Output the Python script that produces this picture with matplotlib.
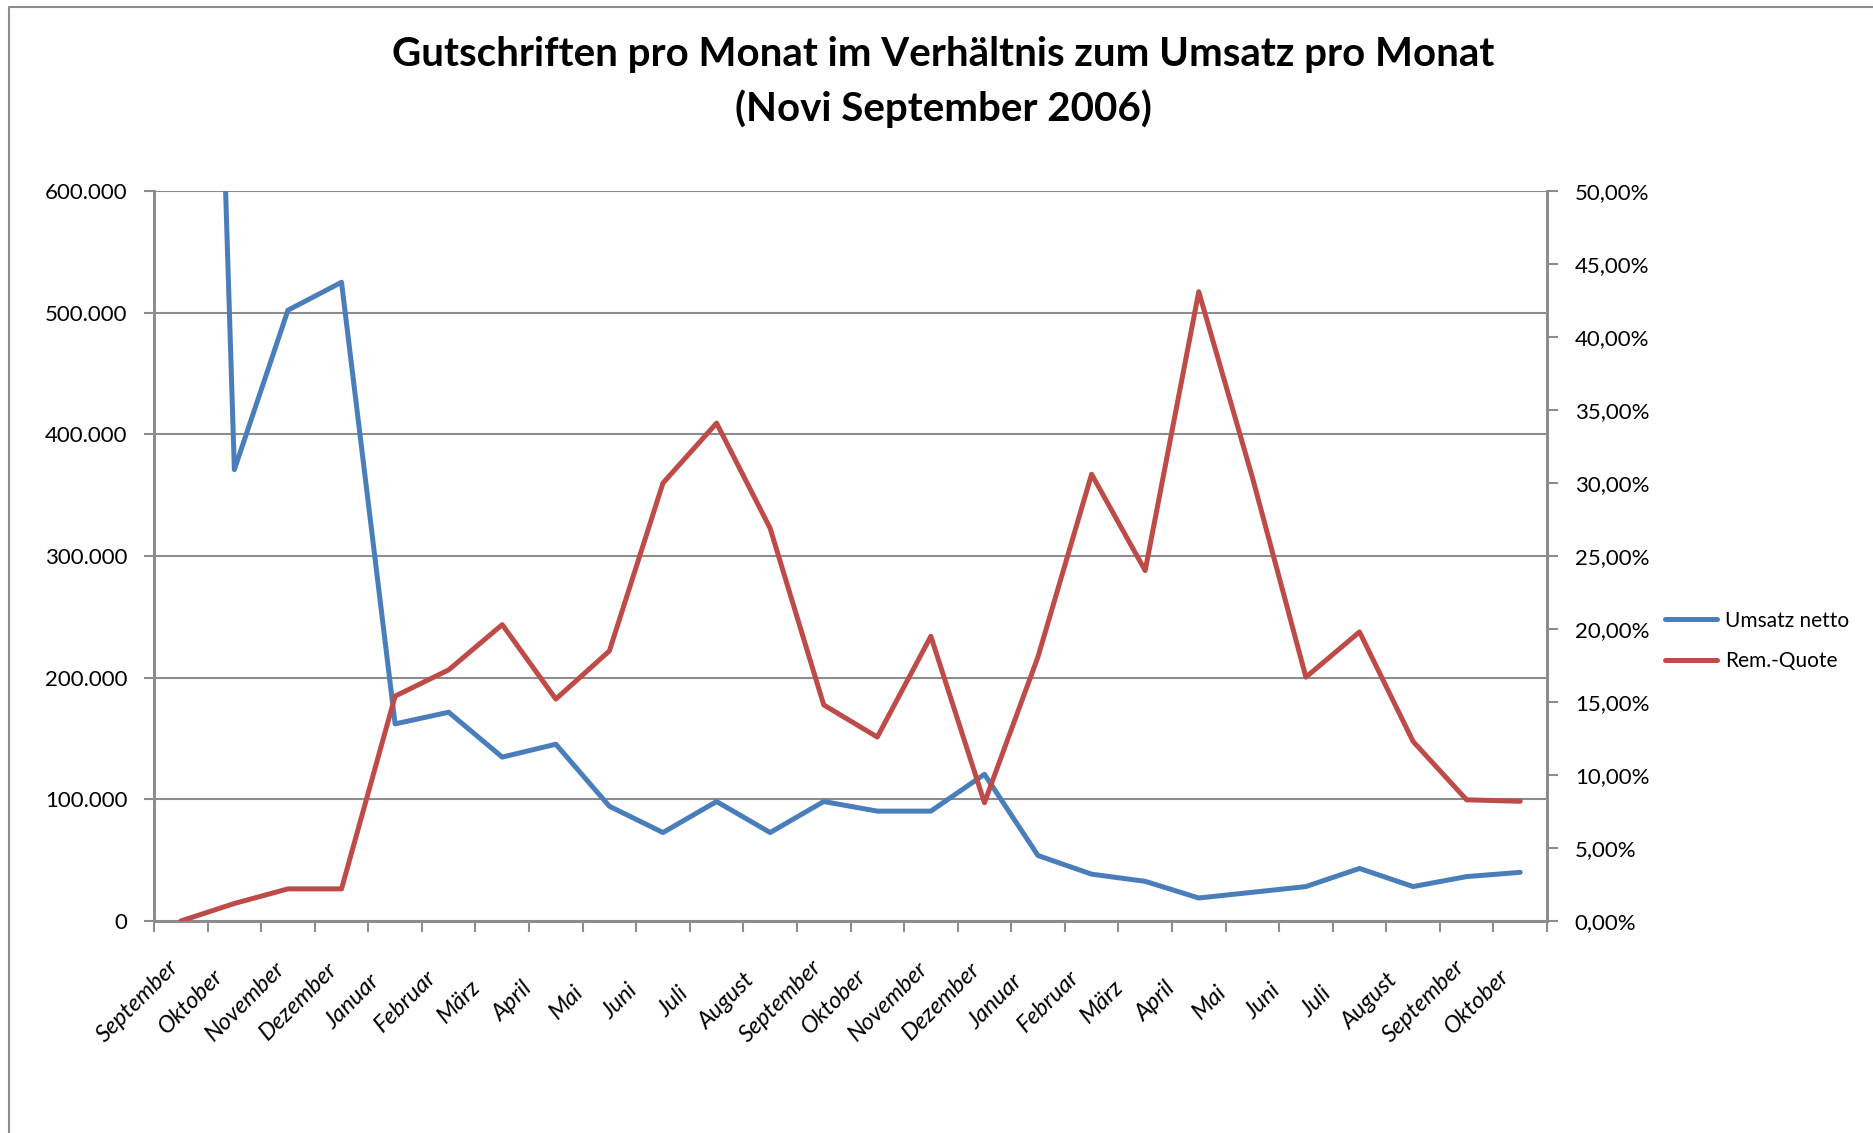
import matplotlib
matplotlib.use("Agg")
import matplotlib.pyplot as plt
from matplotlib.lines import Line2D
from matplotlib.ticker import FuncFormatter, FixedLocator
from matplotlib.transforms import ScaledTranslation

months = ["September", "Oktober", "November", "Dezember", "Januar", "Februar",
          "März", "April", "Mai", "Juni", "Juli", "August",
          "September", "Oktober", "November", "Dezember", "Januar", "Februar",
          "März", "April", "Mai", "Juni", "Juli", "August",
          "September", "Oktober"]

# Umsatz netto (EUR); first month runs off the top of the chart
umsatz = [1770000, 371000, 502000, 525000, 162000, 171600, 134700, 145300, 94300, 72700,
          98200, 72700, 98200, 90300, 90300, 120600, 53800, 38500, 32600, 18900,
          23600, 28300, 43200, 28300, 36500, 40000]

# Rem.-Quote (%)
quote = [0.0, 1.2, 2.2, 2.2, 15.4, 17.2, 20.3, 15.2, 18.5, 30.0,
         34.1, 26.9, 14.8, 12.6, 19.5, 8.1, 18.1, 30.6, 24.0, 43.1,
         30.4, 16.7, 19.8, 12.3, 8.3, 8.2]

title = "Gutschriften pro Monat im Verhältnis zum Umsatz pro Monat\n(Novi September 2006)"

BLUE = "#4A7EBB"
RED = "#BE4B48"
GRID = "#8C8C8C"

plt.rcParams["font.family"] = ["Lato", "DejaVu Sans"]

W, H = 1874, 1133
fig = plt.figure(figsize=(W / 100, H / 100), dpi=100)
ax1 = fig.add_axes([154 / W, 1 - 921 / H, (1547 - 154) / W, (921 - 191) / H])
ax2 = ax1.twinx()

x = list(range(len(months)))
ax1.plot(x, umsatz, color=BLUE, linewidth=3.6, label="Umsatz netto",
         solid_joinstyle="round", solid_capstyle="round", zorder=3)
ax2.plot(x, quote, color=RED, linewidth=3.6, label="Rem.-Quote",
         solid_joinstyle="round", solid_capstyle="round", zorder=3)

ax1.set_xlim(-0.5, len(months) - 0.5)
ax1.set_ylim(0, 600000)
ax2.set_ylim(0, 50)

# left axis
ax1.set_yticks(range(0, 600001, 100000))
ax1.yaxis.set_major_formatter(FuncFormatter(lambda v, p: f"{v:,.0f}".replace(",", ".")))
ax1.yaxis.grid(True, color=GRID, linewidth=1.5)
ax1.set_axisbelow(True)
ax1.tick_params(axis="y", length=7, width=1.5, color=GRID, pad=12, labelsize=16)

# right axis
ax2.set_yticks(range(0, 51, 5))
ax2.yaxis.set_major_formatter(FuncFormatter(lambda v, p: f"{v:.2f}%".replace(".", ",")))
ax2.tick_params(axis="y", length=8, width=1.5, color=GRID, pad=12, labelsize=16)

# category axis: labels at centres, ticks at boundaries
ax1.set_xticks(x)
ax1.set_xticklabels(months, rotation=45, ha="center", va="center",
                    rotation_mode="anchor", fontsize=17, style="italic")
ax1.xaxis.set_minor_locator(FixedLocator([i - 0.5 for i in range(len(months) + 1)]))
ax1.tick_params(axis="x", which="major", length=0, pad=58)
ax1.tick_params(axis="x", which="minor", length=8, width=1.5, color=GRID)
shift = ScaledTranslation(-43 / 100, 0, fig.dpi_scale_trans)
for lbl in ax1.get_xticklabels():
    lbl.set_transform(lbl.get_transform() + shift)

for ax in (ax1, ax2):
    ax.spines["top"].set_visible(False)
    for s in ("left", "right", "bottom"):
        ax.spines[s].set_color(GRID)
        ax.spines[s].set_linewidth(2)

# title
fig.text(943 / W, 1 - 82 / H, title, ha="center", va="center",
         fontsize=29, fontweight="bold", linespacing=1.5)

# legend
h1, l1 = ax1.get_legend_handles_labels()
h2, l2 = ax2.get_legend_handles_labels()
fig.legend(h1 + h2, l1 + l2, loc="center left", bbox_to_anchor=(1665 / W, 1 - 641 / H),
           frameon=False, fontsize=15, handlelength=2.5, handletextpad=0.4,
           labelspacing=1.0, borderpad=0, borderaxespad=0)

# outer chart frame (cropped on right and bottom)
fig.add_artist(Line2D([9 / W, 9 / W, 1], [0, 1 - 7 / H, 1 - 7 / H],
                      transform=fig.transFigure, color=GRID, linewidth=1.5))

fig.savefig("out.png", dpi=100)
plt.close(fig)
